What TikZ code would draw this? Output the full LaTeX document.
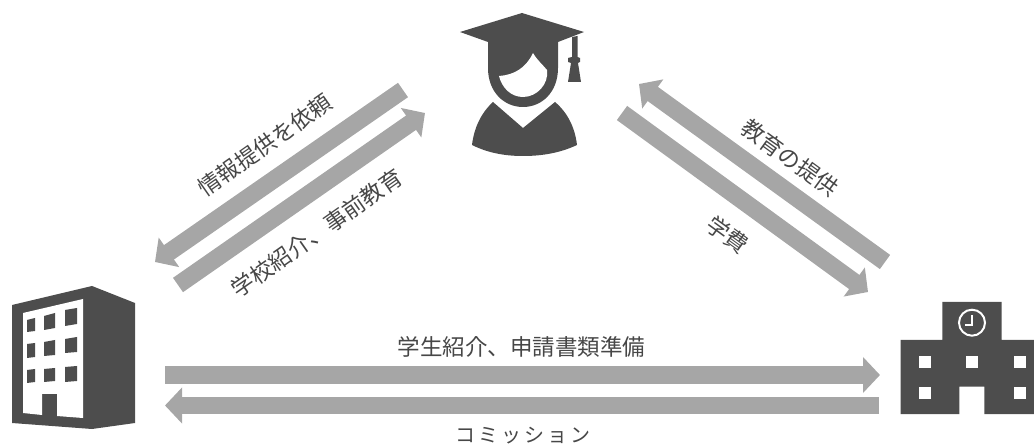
\documentclass[tikz,border=0pt]{standalone}
\usepackage{fontspec}
\setmainfont{Noto Sans CJK JP}
\usetikzlibrary{arrows.meta}
\definecolor{icongray}{HTML}{4D4D4D}
\definecolor{flowgray}{HTML}{A6A6A6}
\tikzset{
  flow/.style={draw=flowgray, line width=17.5pt, -{Triangle[width=35pt,length=17pt]}},
  lbl/.style={font=\fontsize{22.5}{26}\selectfont, text=black!72, inner sep=0pt},
  icon/.style={fill=icongray, draw=none},
  hole/.style={fill=white, draw=none}
}
\begin{document}
\begin{tikzpicture}[x=1pt, y=-1pt]
\useasboundingbox (0,0) rectangle (1034,446);

% Student
\fill[icon] (460,32) -- (522,13) -- (584,32) -- (558,42) -- (558,68) .. controls (558,92) and (542,107) .. (523,107) .. controls (504,107) and (488,92) .. (488,68) -- (488,42) -- cycle;
\fill[icon] (572,37) -- (577.5,36) -- (577.5,57) -- (580,58) -- (580,62) -- (578,63) -- (581,82) -- (568,82) -- (571,63) -- (568,62) -- (568,58) -- (572,57) -- cycle;
\fill[hole] (533,53) .. controls (537,60) and (543,65) .. (547,70) .. controls (549,84) and (537,97) .. (523,97) .. controls (511,97) and (502,88) .. (499,76) .. controls (514,75) and (526,68) .. (533,53) -- cycle;
\fill[icon] (493,102) -- (523,128) -- (555,102) .. controls (568,113) and (575,128) .. (577,145) .. controls (560,153) and (542,156) .. (523,156) .. controls (505,156) and (488,153) .. (472,145) .. controls (474,128) and (481,113) .. (493,102) -- cycle;

% Agent office
\fill[icon] (12,305) -- (92,286) -- (135,303) -- (135,423) -- (92,429) -- (12,423) -- cycle;
\fill[hole] (23,313) -- (83,299) -- (83,418) -- (57,416) -- (57,394) -- (42,394) -- (42,415) -- (23,413) -- cycle;
\foreach \xa/\xb/\ya/\yb/\yc/\yd in {
  27/35/320/318/331/332, 44/55/316/313/328/330, 65/77/310/308/324/326,
  27/35/344/343/357/358, 44/55/342/340/355/356, 65/77/339/337/352/353,
  27/35/370/369/382/383, 44/55/369/368/381/382, 65/77/367/366/381/382}
  \fill[icon] (\xa,\ya) -- (\xb,\yb) -- (\xb,\yc) -- (\xa,\yd) -- cycle;

% School
\fill[icon] (900.7,340) -- (942.3,340) -- (942.3,302) -- (1001.7,302) -- (1001.7,340) -- (1034,340) -- (1034,414) -- (984.3,414) -- (984.3,386.7) -- (959.3,386.7) -- (959.3,414) -- (900.7,414) -- cycle;
\foreach \wx/\wy in {918.5/356, 966.2/356, 1013.8/356, 918.5/387.3, 1013.8/387.3}
  \fill[hole] (\wx,\wy) rectangle ++(12,12);
\draw[white, line width=2pt] (972,322.7) circle (13pt);
\draw[white, line width=2pt] (972,315) -- (972,325.5) -- (965,325.5);

% Arrow ends
\coordinate (req1) at (403,90);
\coordinate (req2) at (155,262);
\coordinate (pre1) at (178,285);
\coordinate (pre2) at (425,113);
\coordinate (edu1) at (885,262);
\coordinate (edu2) at (639,84);
\coordinate (fee1) at (622,113);
\coordinate (fee2) at (868,292);
\coordinate (ref1) at (165,375);
\coordinate (ref2) at (880,375);
\coordinate (com1) at (879,405.5);
\coordinate (com2) at (165,405.5);

% Arrows
\draw[flow] (req1) -- (req2);
\draw[flow] (pre1) -- (pre2);
\draw[flow] (edu1) -- (edu2);
\draw[flow] (fee1) -- (fee2);
\draw[flow] (ref1) -- (ref2);
\draw[flow] (com1) -- (com2);

% Labels
\node[lbl, rotate=35] (reqlabel) at (265,145) {情報提供を依頼};
\node[lbl, rotate=35] (prelabel) at (317,233) {学校紹介、事前教育};
\node[lbl, rotate=-36] (edulabel) at (790,158) {教育の提供};
\node[lbl, rotate=-36] (feelabel) at (728,235) {学費};
\node[lbl] (reflabel) at (521.5,347) {学生紹介、申請書類準備};
\node[lbl, font=\fontsize{20}{22}\selectfont\addfontfeature{LetterSpace=15}] (comlabel) at (523,436) {コミッション};

\end{tikzpicture}
\end{document}
